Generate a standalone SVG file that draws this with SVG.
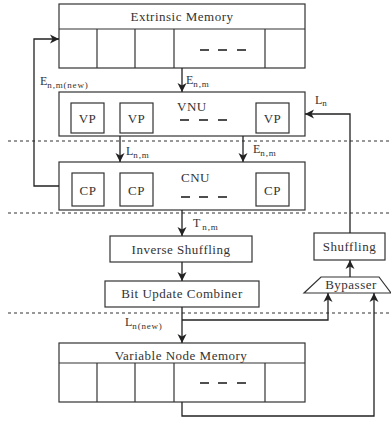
<svg xmlns="http://www.w3.org/2000/svg" width="391" height="422" viewBox="0 0 391 422">
<style>
.box{fill:#fff;stroke:#333;stroke-width:1.2}
.ln{fill:none;stroke:#222;stroke-width:1.3}
.dash{stroke:#222;stroke-width:1.6}
.dot{stroke:#333;stroke-width:1.2;stroke-dasharray:3 3}
.t{font-family:'Liberation Serif','Times New Roman','DejaVu Serif',serif;font-size:13px;letter-spacing:0.5px;fill:#333}
.tm{text-anchor:middle}
.lab{font-family:'Liberation Serif','Times New Roman','DejaVu Serif',serif;font-size:12px;fill:#333}
.sub{font-size:9px;letter-spacing:0.8px}
</style>
<defs>
<marker id="ah" markerUnits="userSpaceOnUse" markerWidth="10" markerHeight="10" refX="9" refY="5" orient="auto">
<path d="M0,0.5 L9,5 L0,9.5 L2.5,5 z" fill="#222"/>
</marker>
</defs>

<g id="separators">
<line class="dot" x1="8" y1="141" x2="391" y2="141"/>
<line class="dot" x1="8" y1="213" x2="391" y2="213"/>
<line class="dot" x1="8" y1="313" x2="391" y2="313"/>
</g>

<g id="extrinsic-memory">
<rect class="box" x="59" y="4" width="246" height="64"/>
<line class="box" x1="59" y1="29" x2="305" y2="29"/>
<line class="box" x1="97" y1="29" x2="97" y2="68"/>
<line class="box" x1="135" y1="29" x2="135" y2="68"/>
<line class="box" x1="174" y1="29" x2="174" y2="68"/>
<line class="box" x1="265" y1="29" x2="265" y2="68"/>
<text class="t tm" x="182" y="21">Extrinsic Memory</text>
<line class="dash" x1="200" y1="50" x2="209" y2="50"/>
<line class="dash" x1="218" y1="50" x2="227" y2="50"/>
<line class="dash" x1="237" y1="50" x2="246" y2="50"/>
</g>

<g id="vnu">
<rect class="box" x="59" y="92" width="246" height="44"/>
<text class="t" x="177" y="111">VNU</text>
<line class="dash" x1="180" y1="120" x2="189" y2="120"/>
<line class="dash" x1="199" y1="120" x2="208" y2="120"/>
<line class="dash" x1="218" y1="120" x2="227" y2="120"/>
<g id="vp1"><rect class="box" x="71" y="103" width="33" height="30"/><text class="t tm" x="87.5" y="123">VP</text></g>
<g id="vp2"><rect class="box" x="120" y="103" width="33" height="30"/><text class="t tm" x="136.5" y="123">VP</text></g>
<g id="vp3"><rect class="box" x="256" y="103" width="33" height="30"/><text class="t tm" x="272.5" y="123">VP</text></g>
</g>

<g id="cnu">
<rect class="box" x="59" y="162" width="246" height="48"/>
<text class="t" x="181" y="182">CNU</text>
<line class="dash" x1="181" y1="197" x2="190" y2="197"/>
<line class="dash" x1="199" y1="197" x2="208" y2="197"/>
<line class="dash" x1="218" y1="197" x2="227" y2="197"/>
<g id="cp1"><rect class="box" x="72" y="173" width="32" height="33"/><text class="t tm" x="88" y="195">CP</text></g>
<g id="cp2"><rect class="box" x="120" y="173" width="33" height="33"/><text class="t tm" x="136.5" y="195">CP</text></g>
<g id="cp3"><rect class="box" x="256" y="173" width="33" height="33"/><text class="t tm" x="272.5" y="195">CP</text></g>
</g>

<g id="inverse-shuffling">
<rect class="box" x="110" y="236" width="142" height="26"/>
<text class="t tm" x="181" y="254">Inverse Shuffling</text>
</g>

<g id="bit-update-combiner">
<rect class="box" x="105" y="281" width="154" height="26"/>
<text class="t tm" x="182" y="298">Bit Update Combiner</text>
</g>

<g id="shuffling">
<rect class="box" x="314" y="233" width="71" height="27"/>
<text class="t tm" x="349.5" y="251">Shuffling</text>
</g>

<g id="bypasser">
<polygon class="box" points="321,277 379,277 391,293 304,293"/>
<text class="t tm" x="351" y="289">Bypasser</text>
</g>

<g id="variable-node-memory">
<rect class="box" x="59" y="343" width="246" height="59"/>
<line class="box" x1="59" y1="363" x2="305" y2="363"/>
<line class="box" x1="97" y1="363" x2="97" y2="402"/>
<line class="box" x1="135" y1="363" x2="135" y2="402"/>
<line class="box" x1="174" y1="363" x2="174" y2="402"/>
<line class="box" x1="265" y1="363" x2="265" y2="402"/>
<text class="t tm" x="181" y="360">Variable Node Memory</text>
<line class="dash" x1="200" y1="383" x2="209" y2="383"/>
<line class="dash" x1="218" y1="383" x2="227" y2="383"/>
<line class="dash" x1="237" y1="383" x2="246" y2="383"/>
</g>

<g id="connectors">
<line class="ln" x1="182" y1="68" x2="182" y2="92" marker-end="url(#ah)"/>
<line class="ln" x1="120" y1="136" x2="120" y2="162" marker-end="url(#ah)"/>
<line class="ln" x1="243" y1="136" x2="243" y2="162" marker-end="url(#ah)"/>
<line class="ln" x1="182" y1="210" x2="182" y2="236" marker-end="url(#ah)"/>
<line class="ln" x1="182" y1="262" x2="182" y2="281" marker-end="url(#ah)"/>
<line class="ln" x1="182" y1="307" x2="182" y2="343" marker-end="url(#ah)"/>
<polyline class="ln" points="182,320 328,320 328,293" marker-end="url(#ah)"/>
<polyline class="ln" points="182,402 182,416 374,416 374,293" marker-end="url(#ah)"/>
<line class="ln" x1="350" y1="277" x2="350" y2="260" marker-end="url(#ah)"/>
<polyline class="ln" points="350,233 350,114 305,114" marker-end="url(#ah)"/>
<polyline class="ln" points="59,186 34,186 34,39 59,39" marker-end="url(#ah)"/>
</g>

<g id="labels">
<text class="lab" x="40" y="85">E<tspan class="sub" dy="3">n,m(new)</tspan></text>
<text class="lab" x="186" y="84">E<tspan class="sub" dy="3">n,m</tspan></text>
<text class="lab" x="315" y="104">L<tspan class="sub" dy="2">n</tspan></text>
<text class="lab" x="126" y="155">L<tspan class="sub" dy="3">n,m</tspan></text>
<text class="lab" x="253" y="153">E<tspan class="sub" dy="3">n,m</tspan></text>
<text class="lab" x="193" y="227">T<tspan class="sub" dy="3" dx="2">n,m</tspan></text>
<text class="lab" x="125" y="326">L<tspan class="sub" dy="3">n(new)</tspan></text>
</g>
</svg>
